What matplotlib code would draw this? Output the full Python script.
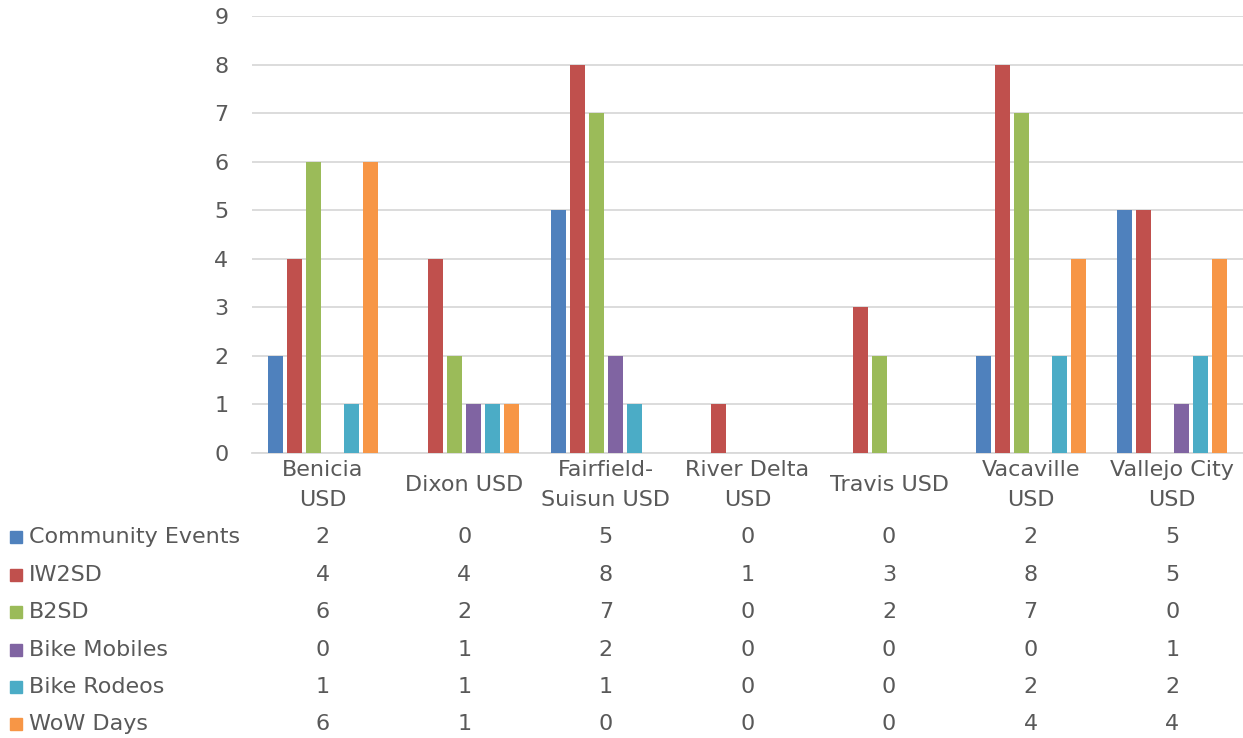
import numpy as np
import matplotlib.pyplot as plt
import matplotlib.transforms as mtransforms

plt.rcParams['font.family'] = ['DejaVu Sans']

# Data
districts = ['Benicia\nUSD', 'Dixon USD', 'Fairfield-\nSuisun USD', 'River Delta\nUSD',
             'Travis USD', 'Vacaville\nUSD', 'Vallejo City\nUSD']
series_names = ['Community Events', 'IW2SD', 'B2SD', 'Bike Mobiles', 'Bike Rodeos', 'WoW Days']
community_events = [2, 0, 5, 0, 0, 2, 5]
iw2sd = [4, 4, 8, 1, 3, 8, 5]
b2sd = [6, 2, 7, 0, 2, 7, 0]
bike_mobiles = [0, 1, 2, 0, 0, 0, 1]
bike_rodeos = [1, 1, 1, 0, 0, 2, 2]
wow_days = [6, 1, 0, 0, 0, 4, 4]

series = [community_events, iw2sd, b2sd, bike_mobiles, bike_rodeos, wow_days]
colors = ['#4F81BD', '#C0504D', '#9BBB59', '#8064A2', '#4BACC6', '#F79646']
text_color = '#595959'
fs = 16

W, H = 1243, 738
fig = plt.figure(figsize=(W / 100, H / 100), dpi=100)
ax = fig.add_axes([252 / W, (H - 453) / H, (1243 - 252) / W, (453 - 16) / H])

x = np.arange(len(districts))
pitch = 19 / 141.5
bar_w = 15 / 141.5
for i, (vals, c) in enumerate(zip(series, colors)):
    ax.bar(x + (i - 2.5) * pitch, vals, bar_w, color=c, zorder=3)

ax.set_xlim(-0.5, len(districts) - 0.5)
ax.set_ylim(0, 9)
ax.set_yticks(range(10))
ax.yaxis.grid(True, color='#D9D9D9', linewidth=1.3, zorder=0)
ax.tick_params(axis='y', length=0, pad=17, labelsize=fs, labelcolor=text_color)
ax.set_xticks(x)
ax.set_xticklabels(districts, fontsize=fs, color=text_color, linespacing=1.6)
ax.tick_params(axis='x', length=0, pad=23)
for lbl in ax.get_xticklabels():
    lbl.set_va('center')
for s in ['top', 'right', 'left']:
    ax.spines[s].set_visible(False)
ax.spines['bottom'].set_color('#D9D9D9')
ax.spines['bottom'].set_linewidth(1.3)

# data table under the chart
trans = mtransforms.blended_transform_factory(ax.transData, fig.transFigure)
row_y = [537, 575, 612, 650, 687, 724]
for name, vals, c, ry in zip(series_names, series, colors, row_y):
    yf = (H - ry) / H
    fig.patches.append(plt.Rectangle((10 / W, yf - 6 / H), 12 / W, 12 / H,
                                     transform=fig.transFigure, color=c))
    fig.text(29 / W, yf, name, fontsize=fs, color=text_color, va='center', ha='left')
    for xi, v in zip(x, vals):
        ax.text(xi, yf, str(v), transform=trans, fontsize=fs, color=text_color,
                ha='center', va='center')

fig.savefig('out.png', dpi=100)
